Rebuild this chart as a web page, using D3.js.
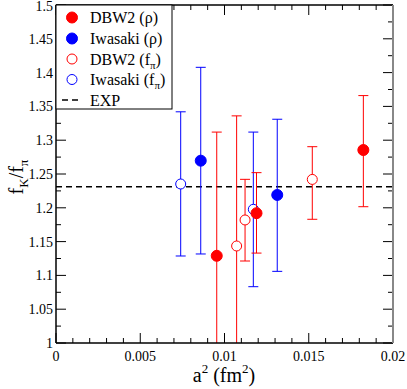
<!DOCTYPE html>
<html><head><meta charset="utf-8">
<script src="https://cdn.jsdelivr.net/npm/d3@7"></script>
<style>body{margin:0;background:#fff}</style>
</head><body><svg id="c" width="407" height="389" font-family="'Liberation Serif', 'DejaVu Serif', serif"></svg>
<script>
// data: [a2, value, lower, upper]
const dbw2Rho    = [[0.00954,1.129,0.946,1.312],[0.0119,1.192,1.133,1.252],[0.01824,1.2855,1.2016,1.366]];
const iwasakiRho = [[0.00859,1.2697,1.1317,1.4078],[0.01313,1.219,1.106,1.331]];
const dbw2Fpi    = [[0.01072,1.1435,0.951,1.336],[0.01122,1.182,1.1213,1.2421],[0.01521,1.242,1.183,1.2904]];
const iwasakiFpi = [[0.0074,1.2352,1.1287,1.342],[0.01171,1.1978,1.0833,1.312]];
const expValue = 1.231;
const xTicks = [0,0.005,0.01,0.015,0.02];
const xTickLabels = ["0","0.005","0.01","0.015","0.02"];
const yTicks = [1,1.05,1.1,1.15,1.2,1.25,1.3,1.35,1.4,1.45,1.5];
const yTickLabels = ["1","1.05","1.1","1.15","1.2","1.25","1.3","1.35","1.4","1.45","1.5"];

const FF = "'Liberation Serif', 'DejaVu Serif', serif";
const svg = d3.select("#c");
const L=56,R=393,T=5,B=343;
const x = d3.scaleLinear().domain([0,0.02]).range([L,R]);
const y = d3.scaleLinear().domain([1,1.5]).range([B,T]);
const defs = svg.append("defs");
defs.append("clipPath").attr("id","clip").append("rect").attr("x",L).attr("y",T).attr("width",R-L).attr("height",B-T);

// ticks
const g = svg.append("g");
const xMinor = d3.range(0,0.0201,0.001);
const yMinor = d3.range(1,1.5001,0.025);
xMinor.forEach((v,i)=>{const len = i%5===0?10:5;
  g.append("line").attr("x1",x(v)).attr("x2",x(v)).attr("y1",B).attr("y2",B-len).attr("stroke","#000");
  g.append("line").attr("x1",x(v)).attr("x2",x(v)).attr("y1",T).attr("y2",T+len).attr("stroke","#000");
});
yMinor.forEach((v,i)=>{const len = i%2===0?10:5;
  g.append("line").attr("y1",y(v)).attr("y2",y(v)).attr("x1",L).attr("x2",L+len).attr("stroke","#000");
  g.append("line").attr("y1",y(v)).attr("y2",y(v)).attr("x1",R).attr("x2",R-len).attr("stroke","#000");
});
xTicks.forEach((v,i)=>g.append("text").attr("font-family",FF).attr("x",x(v)).attr("y",B+18).attr("text-anchor","middle").attr("font-size",14).text(xTickLabels[i]));
yTicks.forEach((v,i)=>g.append("text").attr("font-family",FF).attr("x",L-3).attr("y",Math.max(y(v)+5,11)).attr("text-anchor","end").attr("font-size",14).text(yTickLabels[i]));

// EXP line
svg.append("line").attr("x1",L).attr("x2",R).attr("y1",y(expValue)).attr("y2",y(expValue))
  .attr("stroke","#000").attr("stroke-width",1.5).attr("stroke-dasharray","6,4");

const plot = svg.append("g").attr("clip-path","url(#clip)");
function series(data,color,filled){
  data.forEach(d=>{
    plot.append("line").attr("x1",x(d[0])).attr("x2",x(d[0])).attr("y1",y(d[2])).attr("y2",y(d[3])).attr("stroke",color);
    [d[2],d[3]].forEach(v=>plot.append("line").attr("x1",x(d[0])-5).attr("x2",x(d[0])+5).attr("y1",y(v)).attr("y2",y(v)).attr("stroke",color));
  });
  data.forEach(d=>{
    plot.append("circle").attr("cx",x(d[0])).attr("cy",y(d[1])).attr("r",filled?5.5:5)
      .attr("fill",filled?color:"#fff").attr("stroke",color).attr("stroke-width",1);
  });
}
series(dbw2Fpi,"#ff0000",false);
series(iwasakiFpi,"#0000ff",false);
series(dbw2Rho,"#ff0000",true);
series(iwasakiRho,"#0000ff",true);

// frame
svg.append("line").attr("x1",L).attr("x2",R).attr("y1",T).attr("y2",T).attr("stroke","#000").attr("stroke-width",1.5);
svg.append("line").attr("x1",L).attr("x2",R).attr("y1",B).attr("y2",B).attr("stroke","#000").attr("stroke-width",1.5);
svg.append("line").attr("x1",L).attr("x2",L).attr("y1",T).attr("y2",B).attr("stroke","#000").attr("stroke-width",1.5);
svg.append("line").attr("x1",R).attr("x2",R).attr("y1",T).attr("y2",B).attr("stroke","#888").attr("stroke-width",2);

// legend
const lg = svg.append("g");
lg.append("rect").attr("x",L).attr("y",T).attr("width",172-L).attr("height",109-T).attr("fill","#fff").attr("stroke","#000").attr("stroke-width",1);
const items = [
  {c:"#ff0000",f:true,t:"DBW2 (ρ)"},
  {c:"#0000ff",f:true,t:"Iwasaki (ρ)"},
  {c:"#ff0000",f:false,t:"DBW2 (f",s:"π"},
  {c:"#0000ff",f:false,t:"Iwasaki (f",s:"π"},
  {dash:true,t:"EXP"}];
const rowsY=[17.5,38.5,59,79.5,100];
items.forEach((it,i)=>{
  const yy=rowsY[i];
  if(it.dash){lg.append("line").attr("x1",62).attr("x2",82).attr("y1",yy).attr("y2",yy).attr("stroke","#000").attr("stroke-width",1.5).attr("stroke-dasharray","6,4");}
  else lg.append("circle").attr("cx",72).attr("cy",yy).attr("r",it.f?5.5:5).attr("fill",it.f?it.c:"#fff").attr("stroke",it.c);
  const t = lg.append("text").attr("font-family",FF).attr("x",90).attr("y",yy+5.5).attr("font-size",16).text(it.t);
  if(it.s){t.append("tspan").attr("font-size",11).attr("dy",4).text(it.s);t.append("tspan").attr("dy",-4).text(")");}
});

// axis titles
const xt = svg.append("text").attr("font-family",FF).attr("x",224).attr("y",382).attr("text-anchor","middle").attr("font-size",20);
xt.append("tspan").text("a");
xt.append("tspan").attr("font-size",13).attr("dy",-9).text("2");
xt.append("tspan").attr("dy",9).text(" (fm");
xt.append("tspan").attr("font-size",13).attr("dy",-9).text("2");
xt.append("tspan").attr("dy",9).text(")");

const yt = svg.append("text").attr("font-family",FF).attr("transform","translate(23,177) rotate(-90)").attr("text-anchor","middle").attr("font-size",20);
yt.append("tspan").text("f");
yt.append("tspan").attr("font-size",13).attr("dy",5).text("K");
yt.append("tspan").attr("dy",-5).text("/f");
yt.append("tspan").attr("font-size",13).attr("dy",5).text("π");
</script></body></html>
